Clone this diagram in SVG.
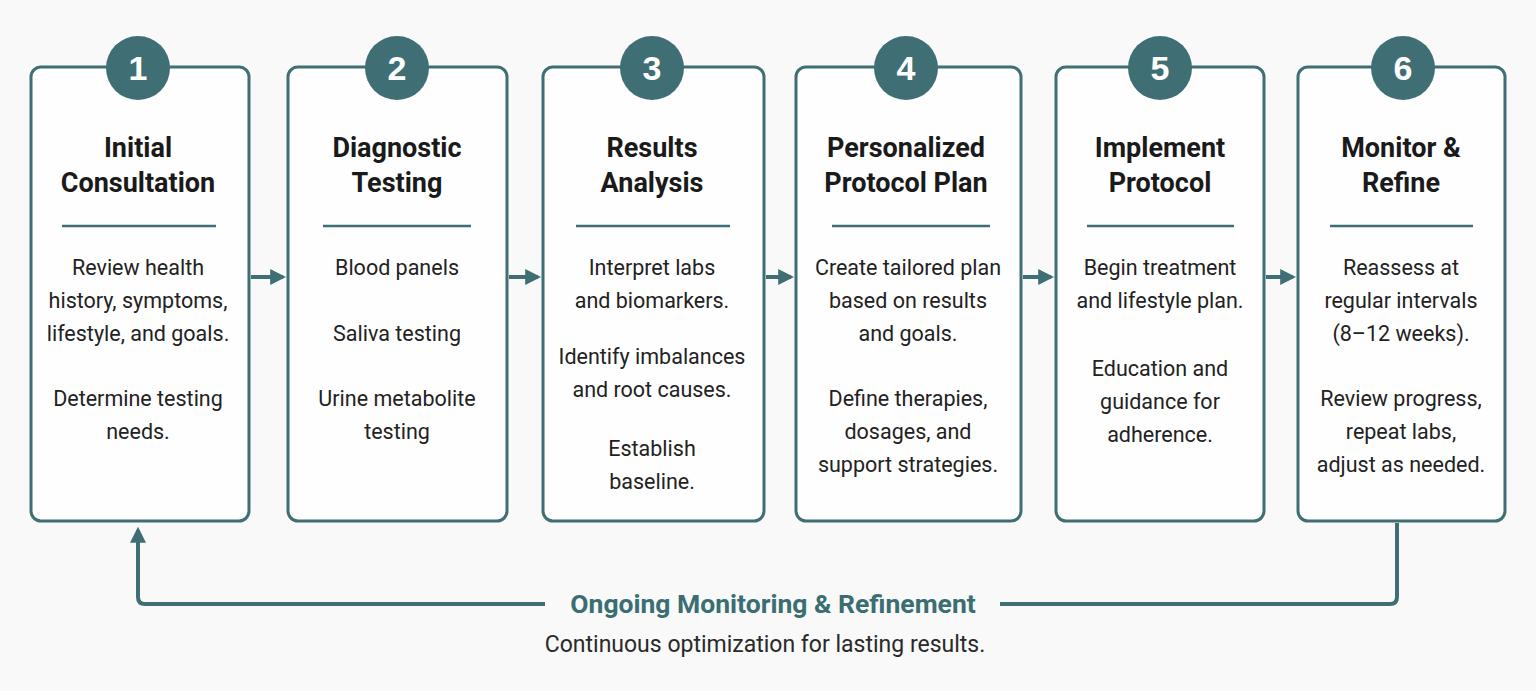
<svg xmlns="http://www.w3.org/2000/svg" width="1536" height="691" viewBox="0 0 1536 691">
<defs>
<style>
.box{fill:#fefefe;stroke:#3f6f74;stroke-width:3}
.c{fill:#3f6f74}
.n{fill:#fff;font:bold 34px "Liberation Sans",Arial,sans-serif;text-anchor:middle}
.t{fill:#1a1a1a;font:bold 27px Roboto,"Liberation Sans",sans-serif;text-anchor:middle}
.b{fill:#222;font:21.5px Roboto,"Liberation Sans",sans-serif;text-anchor:middle}
.d{stroke:#3f6f74;stroke-width:2.5}
.ln{fill:none;stroke:#3f6f74;stroke-width:4}
</style>
<marker id="ah" viewBox="0 0 10 10" refX="8" refY="5" markerWidth="4" markerHeight="4" orient="auto"><path d="M0,0 L10,5 L0,10 z" fill="#3f6f74"/></marker>
</defs>
<rect width="1536" height="691" fill="#f8f9f8"/>
<g id="connectors">
<line class="ln" x1="251" y1="277" x2="283" y2="277" marker-end="url(#ah)"/>
<line class="ln" x1="509" y1="277" x2="538" y2="277" marker-end="url(#ah)"/>
<line class="ln" x1="766" y1="277" x2="791" y2="277" marker-end="url(#ah)"/>
<line class="ln" x1="1023" y1="277" x2="1051" y2="277" marker-end="url(#ah)"/>
<line class="ln" x1="1266" y1="277" x2="1293" y2="277" marker-end="url(#ah)"/>
<path class="ln" d="M1397,523 V597 Q1397,604 1390,604 H1000"/>
<path class="ln" d="M545,604 H145 Q138,604 138,597 V530" marker-end="url(#ah)"/>
<text x="773" y="613" text-anchor="middle" style="font:bold 26.5px Roboto,'Liberation Sans',sans-serif;fill:#3a6e72">Ongoing Monitoring &amp; Refinement</text>
<text x="765" y="652" class="b" style="fill:#2a2a2a;font-size:23px">Continuous optimization for lasting results.</text>
</g>
<g id="n1"><rect class="box" x="31" y="67" width="218" height="454" rx="10"/><circle class="c" cx="138" cy="68" r="32"/><text class="n" x="138" y="80">1</text>
<text class="t" x="138" y="157">Initial</text><text class="t" x="138" y="192">Consultation</text><line class="d" x1="62" y1="226" x2="216" y2="226"/>
<text class="b" x="138" y="275">Review health</text><text class="b" x="138" y="308">history, symptoms,</text><text class="b" x="138" y="341">lifestyle, and goals.</text><text class="b" x="138" y="406">Determine testing</text><text class="b" x="138" y="439">needs.</text></g>
<g id="n2"><rect class="box" x="288" y="67" width="219" height="454" rx="10"/><circle class="c" cx="397" cy="68" r="32"/><text class="n" x="397" y="80">2</text>
<text class="t" x="397" y="157">Diagnostic</text><text class="t" x="397" y="192">Testing</text><line class="d" x1="323" y1="226" x2="471" y2="226"/>
<text class="b" x="397" y="275">Blood panels</text><text class="b" x="397" y="341">Saliva testing</text><text class="b" x="397" y="406">Urine metabolite</text><text class="b" x="397" y="439">testing</text></g>
<g id="n3"><rect class="box" x="543" y="67" width="221" height="454" rx="10"/><circle class="c" cx="652" cy="68" r="32"/><text class="n" x="652" y="80">3</text>
<text class="t" x="652" y="157">Results</text><text class="t" x="652" y="192">Analysis</text><line class="d" x1="576" y1="226" x2="730" y2="226"/>
<text class="b" x="652" y="275">Interpret labs</text><text class="b" x="652" y="308">and biomarkers.</text><text class="b" x="652" y="364">Identify imbalances</text><text class="b" x="652" y="397">and root causes.</text><text class="b" x="652" y="456">Establish</text><text class="b" x="652" y="489">baseline.</text></g>
<g id="n4"><rect class="box" x="796" y="67" width="225" height="454" rx="10"/><circle class="c" cx="906" cy="68" r="32"/><text class="n" x="906" y="80">4</text>
<text class="t" x="906" y="157">Personalized</text><text class="t" x="906" y="192">Protocol Plan</text><line class="d" x1="832" y1="226" x2="990" y2="226"/>
<text class="b" x="908" y="275">Create tailored plan</text><text class="b" x="908" y="308">based on results</text><text class="b" x="908" y="341">and goals.</text><text class="b" x="908" y="406">Define therapies,</text><text class="b" x="908" y="439">dosages, and</text><text class="b" x="908" y="472">support strategies.</text></g>
<g id="n5"><rect class="box" x="1056" y="67" width="208" height="454" rx="10"/><circle class="c" cx="1160" cy="68" r="32"/><text class="n" x="1160" y="80">5</text>
<text class="t" x="1160" y="157">Implement</text><text class="t" x="1160" y="192">Protocol</text><line class="d" x1="1087" y1="226" x2="1234" y2="226"/>
<text class="b" x="1160" y="275">Begin treatment</text><text class="b" x="1160" y="308">and lifestyle plan.</text><text class="b" x="1160" y="376">Education and</text><text class="b" x="1160" y="409">guidance for</text><text class="b" x="1160" y="442">adherence.</text></g>
<g id="n6"><rect class="box" x="1298" y="67" width="207" height="454" rx="10"/><circle class="c" cx="1403" cy="68" r="32"/><text class="n" x="1403" y="80">6</text>
<text class="t" x="1401" y="157">Monitor &amp;</text><text class="t" x="1401" y="192">Refine</text><line class="d" x1="1330" y1="226" x2="1473" y2="226"/>
<text class="b" x="1401" y="275">Reassess at</text><text class="b" x="1401" y="308">regular intervals</text><text class="b" x="1401" y="341">(8–12 weeks).</text><text class="b" x="1401" y="406">Review progress,</text><text class="b" x="1401" y="439">repeat labs,</text><text class="b" x="1401" y="472">adjust as needed.</text></g>
</svg>
